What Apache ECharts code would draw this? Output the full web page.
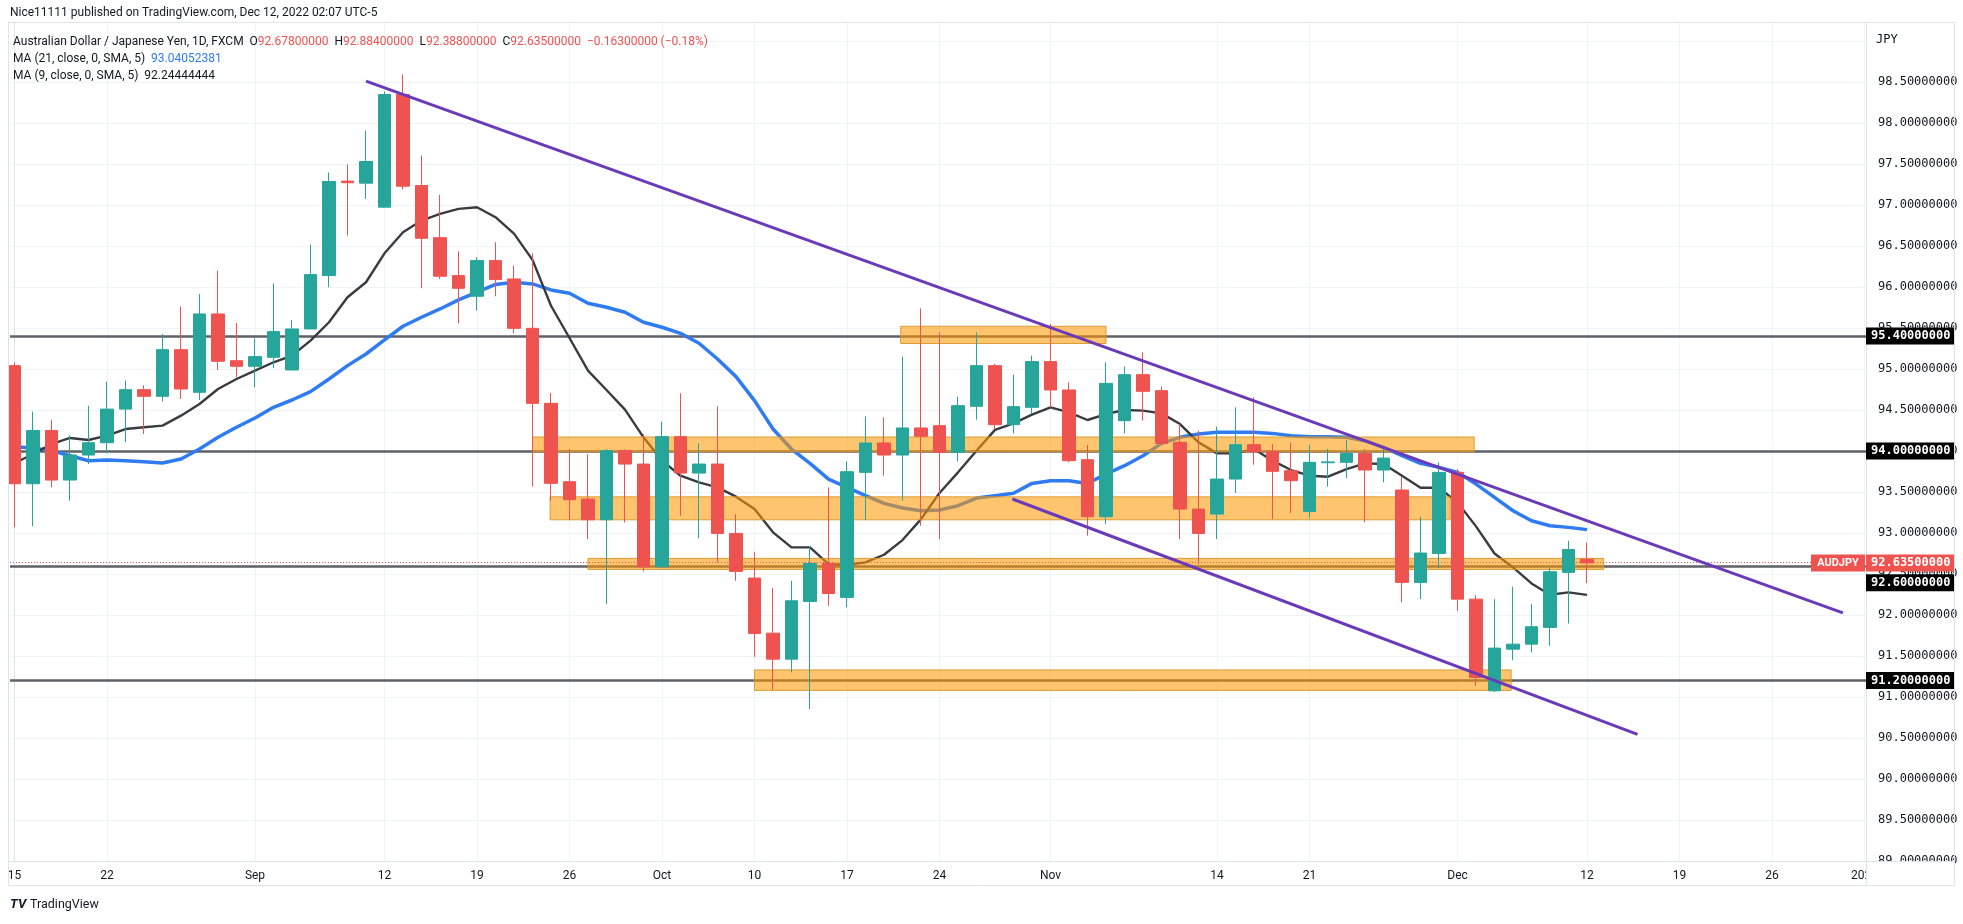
<!DOCTYPE html>
<html><head><meta charset="utf-8">
<script src="https://cdn.jsdelivr.net/npm/echarts@6/dist/echarts.min.js"></script>
<style>html,body{margin:0;padding:0;background:#fff;}#c{width:1963px;height:924px;}</style>
</head><body><div id="c"></div>
<script>
// ---------- DATA ----------
const dates = [
 '2022-08-15','2022-08-16','2022-08-17','2022-08-18','2022-08-19',
 '2022-08-22','2022-08-23','2022-08-24','2022-08-25','2022-08-26',
 '2022-08-29','2022-08-30','2022-08-31','2022-09-01','2022-09-02',
 '2022-09-05','2022-09-06','2022-09-07','2022-09-08','2022-09-09',
 '2022-09-12','2022-09-13','2022-09-14','2022-09-15','2022-09-16',
 '2022-09-19','2022-09-20','2022-09-21','2022-09-22','2022-09-23',
 '2022-09-26','2022-09-27','2022-09-28','2022-09-29','2022-09-30',
 '2022-10-03','2022-10-04','2022-10-05','2022-10-06','2022-10-07',
 '2022-10-10','2022-10-11','2022-10-12','2022-10-13','2022-10-14',
 '2022-10-17','2022-10-18','2022-10-19','2022-10-20','2022-10-21',
 '2022-10-24','2022-10-25','2022-10-26','2022-10-27','2022-10-28',
 '2022-10-31','2022-11-01','2022-11-02','2022-11-03','2022-11-04',
 '2022-11-07','2022-11-08','2022-11-09','2022-11-10','2022-11-11',
 '2022-11-14','2022-11-15','2022-11-16','2022-11-17','2022-11-18',
 '2022-11-21','2022-11-22','2022-11-23','2022-11-24','2022-11-25',
 '2022-11-28','2022-11-29','2022-11-30','2022-12-01','2022-12-02',
 '2022-12-05','2022-12-06','2022-12-07','2022-12-08','2022-12-09',
 '2022-12-12'
];
const opens = [
 95.04,93.60,94.25,93.645,93.95, 94.10,94.51,94.747,94.666,95.235,
 94.715,95.67,95.10,95.032,95.142, 94.987,95.487,96.138,97.29,97.265,
 96.972,98.346,97.236,96.60,96.138, 95.886,96.321,96.097,95.495,94.58,
 93.625,93.413,93.161,94.003,93.84, 92.588,94.174,93.73,93.84,92.994,
 92.45,91.778,91.461,92.165,92.628, 92.214,93.739,94.097,93.95,94.28,
 94.308,93.983,94.544,95.04,94.32, 94.532,95.089,94.743,93.893,93.198,
 94.369,94.93,94.735,94.105,93.291, 93.23,93.657,94.076,93.991,93.759,
 93.263,93.856,93.861,93.97,93.767, 93.523,92.397,92.75,93.739,92.193,
 91.075,91.583,91.644,91.848,92.519, 92.678
];
const highs = [
 95.08,94.48,94.38,94.19,94.55, 94.845,94.86,94.80,95.426,95.76,
 95.914,96.199,95.56,95.373,96.044, 95.597,96.516,97.395,97.492,97.907,
 98.383,98.59,97.602,97.122,96.435, 96.362,96.545,96.26,96.41,94.707,
 94.023,93.962,94.023,94.02,94.206, 94.357,94.703,94.092,94.544,93.23,
 92.771,92.328,92.417,92.832,93.556, 93.873,94.422,94.41,95.15,95.739,
 95.447,94.662,95.447,95.06,94.93, 95.162,95.548,94.837,94.072,95.081,
 95.028,95.203,94.784,94.328,94.247, 94.296,94.532,94.654,94.084,94.105,
 94.076,94.023,94.137,94.023,94.044, 93.686,93.198,93.861,93.779,92.242,
 92.193,92.344,92.132,92.58,92.905, 92.884
];
const lows = [
 93.07,93.08,93.556,93.393,93.84, 93.97,94.105,94.206,94.605,94.633,
 94.621,94.987,94.898,94.776,95.011, 94.987,95.487,95.996,96.626,97.073,
 96.972,97.187,95.984,96.097,95.556, 95.711,95.886,95.434,93.564,93.393,
 93.157,92.925,92.132,93.129,92.531, 92.57,93.21,92.934,92.641,92.417,
 91.49,91.083,91.299,90.851,92.112, 92.092,93.157,93.698,93.393,93.088,
 92.925,93.873,94.381,94.267,94.214, 94.45,94.532,93.861,92.966,93.108,
 94.214,94.369,94.084,92.925,92.62, 92.925,93.487,93.832,93.169,93.243,
 93.182,93.564,93.67,93.129,93.617, 92.153,92.193,92.571,92.051,91.136,
 91.06,91.449,91.543,91.624,91.896, 92.388
];
const closes = [
 93.60,94.25,93.645,93.95,94.10, 94.51,94.747,94.666,95.235,94.755,
 95.67,95.093,95.032,95.15,95.455, 95.487,96.15,97.285,97.27,97.529,
 98.346,97.228,96.593,96.13,95.983, 96.321,96.089,95.495,94.58,93.605,
 93.405,93.161,94.003,93.84,92.588, 94.174,93.73,93.84,92.994,92.531,
 91.774,91.461,92.173,92.628,92.262, 93.747,94.097,93.95,94.28,94.178,
 93.983,94.552,95.04,94.32,94.54, 95.089,94.743,93.881,93.198,94.824,
 94.93,94.727,94.092,93.291,92.994, 93.657,94.076,93.991,93.751,93.637,
 93.861,93.866,93.97,93.767,93.913, 92.397,92.755,93.739,92.193,91.238,
 91.596,91.644,91.856,92.527,92.798, 92.635
];
const ma21 = [
 94.052,94.036,94.003,93.942,93.881, 93.889,93.881,93.869,93.852,93.901,
 94.023,94.166,94.288,94.402,94.532, 94.621,94.723,94.877,95.04,95.182,
 95.353,95.52,95.63,95.731,95.841, 95.935,96.03,96.057,96.036,95.963,
 95.922,95.8,95.752,95.691,95.569, 95.508,95.434,95.313,95.121,94.906,
 94.613,94.267,94.023,93.848,93.657, 93.556,93.454,93.36,93.304,93.271,
 93.279,93.332,93.425,93.454,93.483, 93.604,93.637,93.637,93.604,93.718,
 93.82,93.942,94.092,94.166,94.206, 94.227,94.227,94.227,94.214,94.186,
 94.174,94.174,94.166,94.125,94.044, 93.942,93.848,93.8,93.739,93.596,
 93.434,93.271,93.149,93.088,93.068, 93.04052381
];
const ma9 = [
 93.85,93.962,94.084,94.158,94.133, 94.186,94.267,94.288,94.308,94.43,
 94.572,94.755,94.877,94.979,95.081, 95.162,95.345,95.569,95.874,96.057,
 96.41,96.667,96.809,96.89,96.951, 96.972,96.85,96.65,96.33,95.77,
 95.377,94.979,94.743,94.503,94.166, 93.881,93.698,93.617,93.556,93.442,
 93.291,93.007,92.824,92.824,92.62, 92.612,92.641,92.734,92.913,93.169,
 93.487,93.739,94.003,94.257,94.336, 94.442,94.532,94.471,94.377,94.45,
 94.499,94.491,94.458,94.328,94.105, 93.97,93.97,94.023,93.881,93.767,
 93.698,93.686,93.779,93.848,93.84, 93.698,93.551,93.551,93.37,93.08,
 92.75,92.58,92.384,92.246,92.275, 92.24444444
];
// time-axis ticks (trading-day index counted from 2022-08-15)
const xTickIdx    = [0, 5, 13, 20, 25, 30, 35, 40, 45, 50, 56, 65, 70, 78, 85, 90, 95, 100];
const xTickLabels = ['15','22','Sep','12','19','26','Oct','10','17','24','Nov','14','21','Dec','12','19','26','2023'];
// horizontal levels
const levels = [95.4, 94.0, 92.6, 91.2];
// zones (index start/end, price top/bottom)
const zoneStart  = [47.9, 28.0, 28.95, 31.0, 40.0];
const zoneEnd    = [59.0, 78.9, 77.6, 85.9, 80.9];
const zoneTop    = [95.52, 94.17, 93.44, 92.69, 91.33];
const zoneBottom = [95.31, 93.99, 93.16, 92.555, 91.08];
// trend lines [index, price]
const trendA = [[19.0, 98.51], [98.83, 92.025]];
const trendB = [[53.94, 93.414], [87.73, 90.543]];
const symbolName = 'AUDJPY';

// ---------- CHART ----------
const chart = echarts.init(document.getElementById('c'), null, {renderer: 'canvas'});
const last = dates.length - 1;
const candleData = dates.map((d, i) => [i, opens[i], closes[i], lows[i], highs[i]]);
const GREEN = '#26a69a', RED = '#ef5350';
const SANS = 'Roboto, "Liberation Sans", sans-serif';
const MONO = '"DejaVu Sans Mono", monospace';

const option = {
  animation: false,
  backgroundColor: '#ffffff',
  grid: {left: 10, right: 97, top: 22, bottom: 63, containLabel: false},
  xAxis: {
    type: 'value', min: -0.243, max: 100.08,
    axisLine: {show: true, lineStyle: {color: '#e0e3eb', width: 1}},
    axisTick: {show: false},
    splitLine: {show: false},
    axisLabel: {
      customValues: xTickIdx,
      formatter: v => { const k = xTickIdx.indexOf(Math.round(v)); return k >= 0 ? xTickLabels[k] : ''; },
      color: '#131722', fontSize: 12, fontFamily: SANS, margin: 9
    }
  },
  yAxis: {
    type: 'value', position: 'right', min: 89, max: 99.23, interval: 0.5, scale: true,
    axisLine: {show: true, lineStyle: {color: '#e0e3eb'}},
    axisTick: {show: false},
    splitLine: {show: true, lineStyle: {color: '#f0f3fa', width: 1}},
    axisLabel: {
      formatter: v => { const r = Math.round(v * 2) / 2; if (Math.abs(r - v) > 1e-6 || Math.abs(v - 99) < 1e-6) return ''; return v.toFixed(8); },
      color: '#131722', fontSize: 12, fontFamily: MONO, margin: 12
    }
  },
  series: [
    { // vertical grid
      name: 'vgrid', type: 'line', data: [], silent: true,
      markLine: {z: 0, silent: true, symbol: ['none','none'], label: {show: false},
        lineStyle: {color: '#f0f3fa', width: 1, type: 'solid'},
        data: xTickIdx.map(v => ({xAxis: v}))}
    },
    { // horizontal levels
      name: 'levels', type: 'line', data: [], silent: true,
      markLine: {z: 1, silent: true, symbol: ['none','none'], label: {show: false},
        lineStyle: {color: '#5f6068', width: 2.5, type: 'solid'},
        data: levels.map(v => ({yAxis: v}))}
    },
    {
      name: 'MA21', type: 'line', z: 2, showSymbol: false, silent: true,
      data: ma21.map((v, i) => [i, v]),
      lineStyle: {color: '#2f7bf2', width: 3.5}, itemStyle: {color: '#2f7bf2'}
    },
    {
      name: 'MA9', type: 'line', z: 2, showSymbol: false, silent: true,
      data: ma9.map((v, i) => [i, v]),
      lineStyle: {color: '#3a3b40', width: 2.4}, itemStyle: {color: '#3a3b40'}
    },
    { // zones
      name: 'zones', type: 'line', data: [], silent: true,
      markArea: {z: 3, silent: true,
        itemStyle: {color: 'rgba(255,152,0,0.57)', borderColor: 'rgba(215,150,40,0.9)', borderWidth: 1},
        data: zoneStart.map((s, k) => [{coord: [s, zoneTop[k]]}, {coord: [zoneEnd[k], zoneBottom[k]]}])}
    },
    { // last price line
      name: 'lastLine', type: 'line', data: [], silent: true,
      markLine: {z: 3, silent: true, symbol: ['none','none'], label: {show: false},
        lineStyle: {color: RED, width: 1, type: [1, 2]},
        data: [{yAxis: closes[last]}]}
    },
    {
      name: 'AUDJPY', type: 'candlestick', z: 4, silent: true,
      encode: {x: 0, y: [1, 2, 3, 4]},
      data: candleData, barWidth: 13,
      itemStyle: {color: GREEN, color0: RED, borderColor: GREEN, borderColor0: RED, borderWidth: 1}
    },
    {
      name: 'trendA', type: 'line', z: 5, showSymbol: false, silent: true, data: trendA,
      lineStyle: {color: '#6a3ab8', width: 3}
    },
    {
      name: 'trendB', type: 'line', z: 5, showSymbol: false, silent: true, data: trendB,
      lineStyle: {color: '#6a3ab8', width: 3}
    }
  ]
};
chart.setOption(option);

// ---------- overlays (text, badges, frame) ----------
const py = v => chart.convertToPixel({yAxisIndex: 0}, v);
const g = [];
const AX = 1866, AXW = 88;
function badge(val, y, bg, txt) {
  g.push({type: 'rect', z: 120, shape: {x: AX, y: y - 8.5, width: AXW, height: 17}, style: {fill: bg}});
  g.push({type: 'text', z: 121, x: AX + 5, y: y, style: {text: txt, fill: '#ffffff', font: 'bold 12px ' + MONO, textVerticalAlign: 'middle'}});
}
// cover time-axis region under price scale
g.push({type: 'rect', z: 110, shape: {x: AX + 1, y: 862, width: 88, height: 23}, style: {fill: '#ffffff'}});
// frame
g.push({type: 'rect', z: 111, shape: {x: 8.5, y: 22.5, width: 1946, height: 863}, style: {fill: 'none', stroke: '#e0e3eb', lineWidth: 1}});
g.push({type: 'line', z: 111, shape: {x1: AX + 0.5, y1: 22, x2: AX + 0.5, y2: 886}, style: {stroke: '#e0e3eb', lineWidth: 1}});
g.push({type: 'line', z: 111, shape: {x1: 8, y1: 861.5, x2: 1955, y2: 861.5}, style: {stroke: '#e0e3eb', lineWidth: 1}});
g.push({type: 'text', z: 112, x: 1876, y: 40, style: {text: 'JPY', fill: '#131722', font: '12px ' + MONO, textVerticalAlign: 'middle'}});
// level badges
levels.forEach((v, k) => {
  let y = py(v);
  if (Math.abs(v - closes[last]) < 0.1) y += 17;
  badge(v, y, '#000000', v.toFixed(8));
});
badge(closes[last], py(closes[last]), RED, closes[last].toFixed(8));
const yl = py(closes[last]);
g.push({type: 'rect', z: 120, shape: {x: 1811, y: yl - 8.5, width: 54, height: 17}, style: {fill: RED}});
g.push({type: 'text', z: 121, x: 1838, y: yl, style: {text: symbolName, fill: '#ffffff', font: 'bold 11px ' + SANS, textAlign: 'center', textVerticalAlign: 'middle'}});

// header
g.push({type: 'text', z: 130, x: 10, y: 12.5, style: {text: 'Nice11111 published on TradingView.com, Dec 12, 2022 02:07 UTC-5', fill: '#131722', font: '12px ' + SANS, textVerticalAlign: 'middle'}});
const chg = closes[last] - closes[last - 1];
const pct = chg / closes[last - 1] * 100;
const fmt = v => (v < 0 ? '\u2212' : '') + Math.abs(v).toFixed(8);
const hdr = '{n|Australian Dollar / Japanese Yen, 1D, FXCM  O}{r|' + opens[last].toFixed(8) + '}{n|  H}{r|' + highs[last].toFixed(8) +
  '}{n|  L}{r|' + lows[last].toFixed(8) + '}{n|  C}{r|' + closes[last].toFixed(8) + '}{r|  ' + fmt(chg) + ' (' + (pct < 0 ? '\u2212' : '') + Math.abs(pct).toFixed(2) + '%)}';
const rich = {n: {fill: '#131722', font: '12px ' + SANS}, r: {fill: RED, font: '12px ' + SANS}, b: {fill: '#2f7bf2', font: '12px ' + SANS}};
g.push({type: 'text', z: 130, x: 13, y: 41.5, style: {text: hdr, rich: rich, textVerticalAlign: 'middle'}});
g.push({type: 'text', z: 130, x: 13, y: 59, style: {text: '{n|MA (21, close, 0, SMA, 5)  }{b|' + ma21[last].toFixed(8) + '}', rich: rich, textVerticalAlign: 'middle'}});
g.push({type: 'text', z: 130, x: 13, y: 76, style: {text: '{n|MA (9, close, 0, SMA, 5)  }{n|' + ma9[last].toFixed(8) + '}', rich: rich, textVerticalAlign: 'middle'}});
// footer logo
g.push({type: 'text', z: 130, x: 10, y: 905, style: {text: 'TV', fill: '#131722', font: 'bold italic 13px ' + SANS, textVerticalAlign: 'middle'}});
g.push({type: 'text', z: 130, x: 30, y: 905, style: {text: 'TradingView', fill: '#131722', font: '12.5px ' + SANS, textVerticalAlign: 'middle'}});

chart.setOption({graphic: {elements: g}});
</script></body></html>
